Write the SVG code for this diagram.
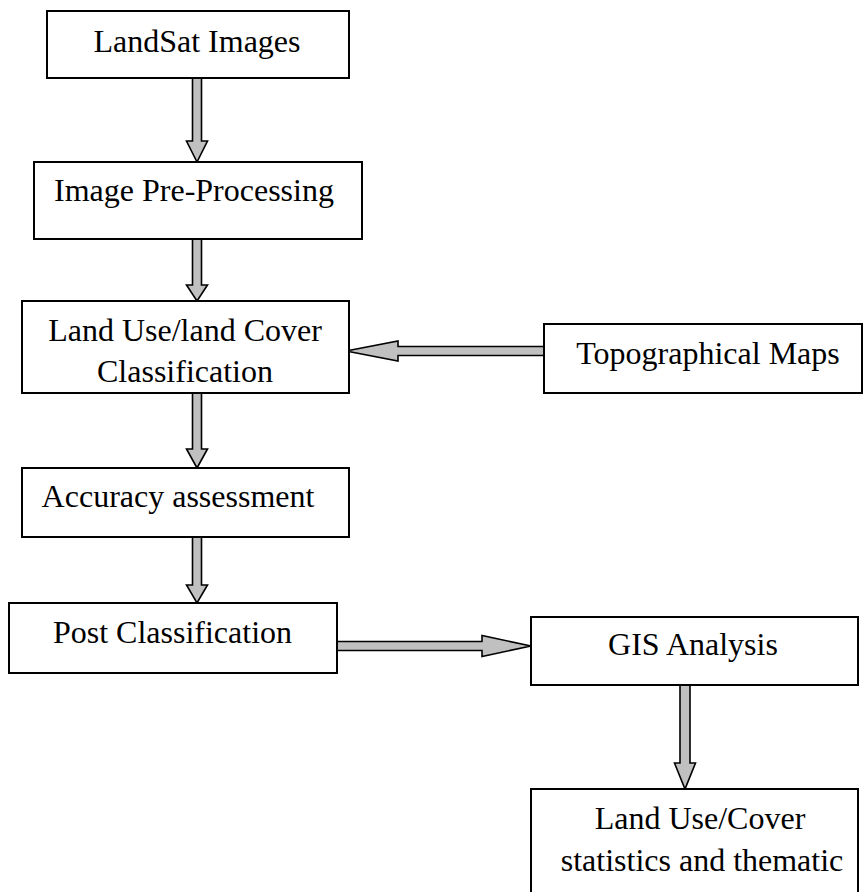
<svg xmlns="http://www.w3.org/2000/svg" width="864" height="892" viewBox="0 0 864 892">
<style>
.box{fill:#fff;stroke:#000;stroke-width:2}
.t{font-family:'Liberation Serif',serif;font-size:32px;fill:#000;text-anchor:middle}
.arr{fill:#c0c0c0;stroke:#000;stroke-width:1.6;stroke-linejoin:miter}
</style>
<rect width="864" height="892" fill="#fff"/>
<g id="connectors">
<polygon class="arr" points="192.5,78 201.5,78 201.5,141 207.5,141 197,162 186.5,141 192.5,141"/>
<polygon class="arr" points="192.5,239 201.5,239 201.5,285 207.5,285 197,301 186.5,285 192.5,285"/>
<polygon class="arr" points="192.5,393 201.5,393 201.5,449 207.5,449 197,468 186.5,449 192.5,449"/>
<polygon class="arr" points="192.5,537 201.5,537 201.5,585 207.5,585 197,603 186.5,585 192.5,585"/>
<polygon class="arr" points="544,346.5 544,355.5 398,355.5 398,361 346,351 398,341 398,346.5"/>
<polygon class="arr" points="337,641.5 482,641.5 482,635.5 531,646 482,656.5 482,650.5 337,650.5"/>
<polygon class="arr" points="680,685 690,685 690,763 695.5,763 685,789 674.5,763 680,763"/>
</g>
<g id="n1"><rect class="box" x="47" y="11" width="302" height="67"/><text class="t" font-family="Liberation Serif, serif" x="197" y="52">LandSat Images</text></g>
<g id="n2"><rect class="box" x="34" y="162" width="328" height="77"/><text class="t" font-family="Liberation Serif, serif" x="194" y="201">Image Pre-Processing</text></g>
<g id="n3"><rect class="box" x="22" y="301" width="327" height="92"/><text class="t" font-family="Liberation Serif, serif" x="185" y="341">Land Use/land Cover</text><text class="t" font-family="Liberation Serif, serif" x="185" y="382">Classification</text></g>
<g id="n4"><rect class="box" x="544" y="324" width="318" height="69"/><text class="t" font-family="Liberation Serif, serif" x="708" y="364">Topographical Maps</text></g>
<g id="n5"><rect class="box" x="22" y="468" width="327" height="69"/><text class="t" font-family="Liberation Serif, serif" x="178" y="507">Accuracy assessment</text></g>
<g id="n6"><rect class="box" x="9" y="603" width="328" height="70"/><text class="t" font-family="Liberation Serif, serif" x="172.5" y="643">Post Classification</text></g>
<g id="n7"><rect class="box" x="531" y="617" width="327" height="68"/><text class="t" font-family="Liberation Serif, serif" x="693" y="655">GIS Analysis</text></g>
<g id="n8"><rect class="box" x="531" y="789" width="327" height="120"/><text class="t" font-family="Liberation Serif, serif" x="700" y="829">Land Use/Cover</text><text class="t" font-family="Liberation Serif, serif" x="702" y="871">statistics and thematic</text></g>
</svg>
